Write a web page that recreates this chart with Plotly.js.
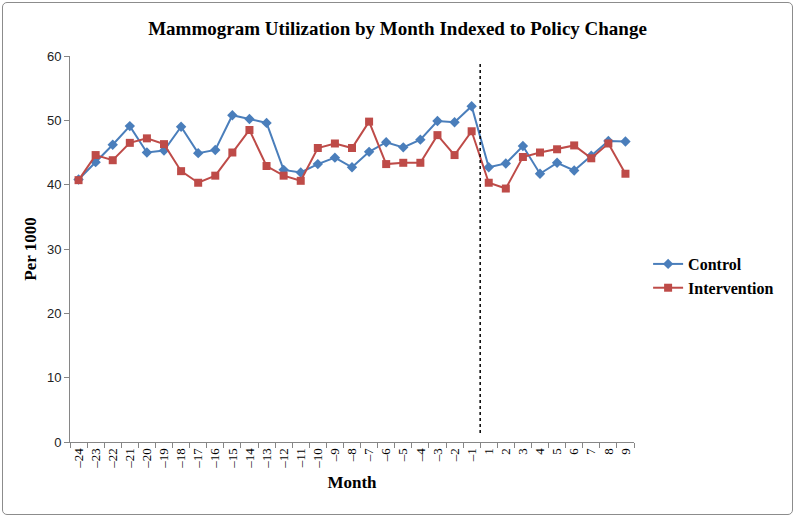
<!DOCTYPE html>
<html>
<head>
<meta charset="utf-8">
<script src="https://cdn.plot.ly/plotly-3.0.1.min.js"></script>
<style>
  body { margin: 0; background: #fff; }
  #wrap { position: relative; width: 795px; height: 517px; }
  #myDiv { width: 795px; height: 517px; }
  #frame {
    position: absolute; left: 2px; top: 2px; width: 789px; height: 511px;
    border: 1px solid #8c8c8c; border-radius: 5px; pointer-events: none;
  }
</style>
</head>
<body>
<div id="wrap">
  <div id="myDiv"></div>
  <div id="frame"></div>
</div>
<script>
// Months indexed to policy change (no month 0)
const months = ['\u201324', '\u201323', '\u201322', '\u201321', '\u201320', '\u201319', '\u201318', '\u201317',
    '\u201316', '\u201315', '\u201314', '\u201313', '\u201312', '\u201311', '\u201310', '\u20139',
    '\u20138', '\u20137', '\u20136', '\u20135', '\u20134', '\u20133', '\u20132', '\u20131',
    '1', '2', '3', '4', '5', '6', '7', '8', '9'];

const control = [40.8, 43.5, 46.2, 49.1, 45.0, 45.3, 49.0, 44.9, 45.4, 50.8, 50.2, 49.6,
    42.3, 41.9, 43.2, 44.2, 42.7, 45.1, 46.6, 45.8, 47.0, 49.9, 49.7, 52.2,
    42.7, 43.3, 46.0, 41.7, 43.4, 42.2, 44.5, 46.8, 46.7];

const intervention = [40.7, 44.6, 43.8, 46.5, 47.2, 46.3, 42.1, 40.3, 41.4, 45.0, 48.5, 42.9,
    41.4, 40.6, 45.7, 46.4, 45.7, 49.8, 43.2, 43.4, 43.4, 47.7, 44.6, 48.3,
    40.3, 39.4, 44.3, 45.0, 45.5, 46.1, 44.1, 46.4, 41.7];

const yTicks = [0, 10, 20, 30, 40, 50, 60];

const serif = 'Liberation Serif, Times New Roman, serif';
const sans = 'Liberation Sans, Arial, sans-serif';

var trace1 = {
    x: months,
    y: control,
    name: '<b>Control</b>',
    mode: 'lines+markers',
    line: { color: '#4a7ebb', width: 2 },
    marker: { symbol: 'diamond', size: 8, color: '#4a7ebb' }
};

var trace2 = {
    x: months,
    y: intervention,
    name: '<b>Intervention</b>',
    mode: 'lines+markers',
    line: { color: '#be4b48', width: 2 },
    marker: { symbol: 'square', size: 8, color: '#be4b48' }
};

var data = [trace1, trace2];

var layout = {
    width: 795,
    height: 517,
    margin: { l: 70, r: 161, t: 56, b: 75 },
    paper_bgcolor: '#fff',
    plot_bgcolor: '#fff',
    font: { family: serif, color: '#000' },
    title: {
        text: '<b>Mammogram Utilization by Month Indexed to Policy Change</b>',
        font: { family: serif, size: 19, color: '#000' },
        x: 0.5, xref: 'container', xanchor: 'center',
        y: 0.945, yref: 'container', yanchor: 'middle'
    },
    xaxis: {
        type: 'category',
        range: [-0.5, 32.5],
        tickangle: -90,
        tickson: 'boundaries',
        ticks: 'outside',
        ticklen: 5,
        tickcolor: '#868686',
        showline: true,
        linecolor: '#868686',
        showgrid: false,
        zeroline: false,
        tickfont: { family: serif, size: 13, color: '#000' },
        title: { text: '<b>Month</b>', font: { family: serif, size: 17, color: '#000' }, standoff: 8 }
    },
    yaxis: {
        range: [0, 60],
        tickvals: yTicks,
        ticks: 'outside',
        ticklen: 5,
        tickcolor: '#868686',
        showline: true,
        linecolor: '#868686',
        showgrid: false,
        zeroline: false,
        tickfont: { family: sans, size: 13, color: '#222' },
        title: { text: '<b>Per 1000</b>', font: { family: serif, size: 17, color: '#000' }, standoff: 5 }
    },
    legend: {
        x: 1.025, xanchor: 'left',
        y: 0.43, yanchor: 'middle',
        font: { family: serif, size: 16, color: '#000' },
        itemwidth: 30,
        tracegroupgap: 6
    },
    shapes: [{
        type: 'line',
        xref: 'x', yref: 'y',
        x0: 23.5, x1: 23.5, y0: 1.4, y1: 59,
        line: { color: '#000', width: 1.5, dash: 'dot' }
    }]
};

Plotly.newPlot('myDiv', data, layout, { displayModeBar: false });
</script>
</body>
</html>
